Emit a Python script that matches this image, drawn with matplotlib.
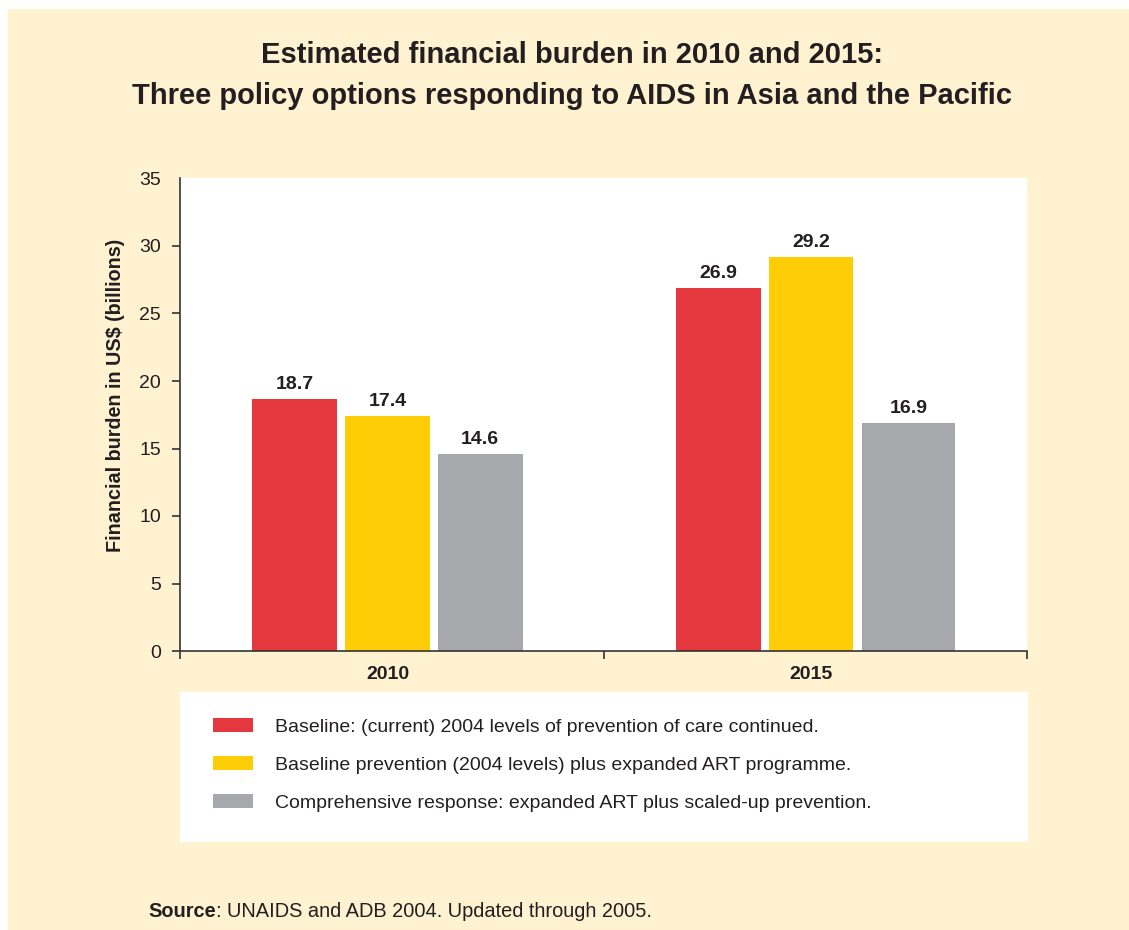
import matplotlib
matplotlib.use("Agg")
import matplotlib.pyplot as plt
import numpy as np

plt.rcParams['font.family'] = ['Liberation Sans', 'DejaVu Sans']

years = ["2010", "2015"]
series_names = [
    "Baseline: (current) 2004 levels of prevention of care continued.",
    "Baseline prevention (2004 levels) plus expanded ART programme.",
    "Comprehensive response: expanded ART plus scaled-up prevention.",
]
baseline = [18.7, 26.9]
baseline_art = [17.4, 29.2]
comprehensive = [14.6, 16.9]
yticks = [0, 5, 10, 15, 20, 25, 30, 35]

colors = ["#E5373E", "#FFCD05", "#A7A8AB"]
bg = "#FEF2D1"
txt = "#231F20"

W, H = 1129, 930
fig = plt.figure(figsize=(W / 100, H / 100), dpi=100)
fig.patch.set_facecolor("white")

bgax = fig.add_axes([8 / W, 0, 1 - 8 / W, 1 - 9 / H])
bgax.set_facecolor(bg)
bgax.set_xticks([]); bgax.set_yticks([])
for s in bgax.spines.values():
    s.set_visible(False)
bgax.set_zorder(-10)

def fx(x):
    return x / W

def fy(y):
    return 1 - y / H

ax = fig.add_axes([fx(180), fy(651), fx(1027) - fx(180), fy(178.5) - fy(651)])
ax.set_facecolor("white")

centers = np.array([0.49, 1.49])
offs = [[-0.219, -0.219], [0.0, 0.0], [0.219, 0.23]]
widths = [[0.2, 0.2], [0.2, 0.2], [0.2, 0.22]]
data = [baseline, baseline_art, comprehensive]
for i, (vals, c) in enumerate(zip(data, colors)):
    xs = centers + np.array(offs[i])
    ax.bar(xs, vals, width=widths[i], color=c, label=series_names[i], zorder=2)
    for x, v in zip(xs, vals):
        ax.text(x, v + 0.42, f"{v:.1f}", ha="center", va="bottom",
                fontsize=14, fontweight="bold", color=txt)

ax.set_xlim(0, 2)
ax.set_ylim(0, 35)
ax.set_yticks(yticks)
ax.set_yticklabels([str(t) for t in yticks], fontsize=14, color=txt)
ax.set_xticks([0, 1, 2])
ax.set_xticklabels([])
ax.set_xticks(centers, minor=True)
ax.set_xticklabels(years, minor=True, fontsize=14, fontweight="bold", color=txt)
ax.tick_params(axis="x", which="major", direction="out", length=6, width=1.2, color="#333333")
ax.tick_params(axis="x", which="minor", length=0, pad=10.5)
ax.tick_params(axis="y", direction="out", length=5.5, width=1.2, color="#333333", pad=8)
ax.yaxis.get_major_ticks()[-1].tick1line.set_visible(False)
for s in ["top", "right"]:
    ax.spines[s].set_visible(False)
for s in ["left", "bottom"]:
    ax.spines[s].set_color("#333333")
    ax.spines[s].set_linewidth(1.2)
ax.set_ylabel("Financial burden in US$ (billions)", fontsize=14.2,
              fontweight="bold", color=txt)
ax.yaxis.set_label_coords(-0.065, 0.54)

lax = fig.add_axes([fx(180), fy(842), fx(1028) - fx(180), fy(692) - fy(842)])
lax.set_facecolor("white")
lax.set_xticks([]); lax.set_yticks([])
for s in lax.spines.values():
    s.set_visible(False)
handles, labels = ax.get_legend_handles_labels()
leg = lax.legend(handles, labels, loc="upper left", bbox_to_anchor=(0.0296, 0.88),
                 frameon=False, fontsize=14, handlelength=2.06, handleheight=0.72,
                 handletextpad=1.15, labelspacing=1.05, borderaxespad=0)
for t in leg.get_texts():
    t.set_color(txt)

fig.text(0.507, fy(55), "Estimated financial burden in 2010 and 2015:",
         ha="center", va="center", fontsize=21, fontweight="bold", color=txt)
fig.text(0.507, fy(96), "Three policy options responding to AIDS in Asia and the Pacific",
         ha="center", va="center", fontsize=21, fontweight="bold", color=txt)

t1 = fig.text(fx(148), fy(911), "Source", ha="left", va="center",
              fontsize=14.4, fontweight="bold", color=txt)
fig.canvas.draw()
bb = t1.get_window_extent()
fig.text(bb.x1 / W, fy(911), ": UNAIDS and ADB 2004. Updated through 2005.",
         ha="left", va="center", fontsize=14.4, color=txt)

fig.savefig("out.png", dpi=100, facecolor=fig.get_facecolor())
